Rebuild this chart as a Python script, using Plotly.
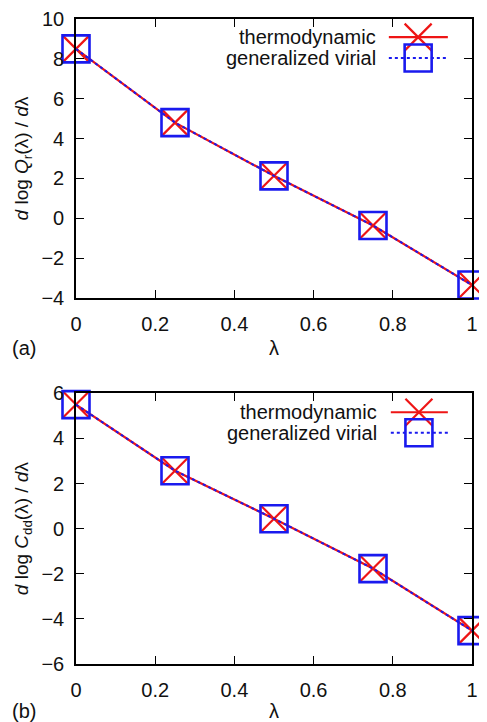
import plotly.graph_objects as go

lam = [0, 0.25, 0.5, 0.75, 1.0]
a_thermo = [8.5, 4.8, 2.13, -0.36, -3.35]
a_virial = [8.5, 4.8, 2.13, -0.36, -3.35]
b_thermo = [5.5, 2.57, 0.44, -1.77, -4.52]
b_virial = [5.5, 2.57, 0.44, -1.77, -4.52]

xticks = [0, 0.2, 0.4, 0.6, 0.8, 1]
xticktext = ["0", "0.2", "0.4", "0.6", "0.8", "1"]
a_yticks = list(range(-4, 11, 2))
b_yticks = list(range(-6, 7, 2))

RED = "#ee1515"
BLUE = "#1a1aee"
FONT = "Liberation Sans, Arial, sans-serif"
FS = 20

# page body has an 8px default margin: offset the figure so it fills the window
OFF = 8
W, H = 487 - OFF, 722 - OFF
def px(x):
    return (x - OFF) / W
def py(y):
    return 1 - (y - OFF) / H

fig = go.Figure()

def add_panel(xa, ya, th, vi):
    fig.add_trace(go.Scatter(x=lam, y=th, xaxis=xa, yaxis=ya, mode="lines+markers",
                             line=dict(color=RED, width=2.2),
                             marker=dict(symbol="x-thin", size=27, line=dict(color=RED, width=2.2)),
                             cliponaxis=False, showlegend=False))
    fig.add_trace(go.Scatter(x=lam, y=vi, xaxis=xa, yaxis=ya, mode="lines+markers",
                             line=dict(color=BLUE, width=2, dash="dot"),
                             marker=dict(symbol="square-open", size=27, line=dict(color=BLUE, width=2.6)),
                             cliponaxis=False, showlegend=False))

add_panel("x", "y", a_thermo, a_virial)
add_panel("x2", "y2", b_thermo, b_virial)

xd = [px(76), px(472)]
ya_dom = [py(298), py(19)]
yb_dom = [py(664), py(393.3)]

axcommon = dict(showline=True, linecolor="black", linewidth=1.6, mirror="allticks",
                ticks="inside", ticklen=8, tickwidth=1.4, tickcolor="black",
                showgrid=False, zeroline=False, automargin=False,
                tickfont=dict(family=FONT, size=FS, color="#111"))

fig.update_layout(
    width=W, height=H,
    margin=dict(l=0, r=0, t=0, b=0),
    paper_bgcolor="white", plot_bgcolor="white",
    font=dict(family=FONT, size=FS, color="#111"),
    xaxis=dict(domain=xd, anchor="y", range=[0, 1], tickvals=xticks,
               ticktext=xticktext, ticklabelstandoff=7, **axcommon),
    yaxis=dict(domain=ya_dom, anchor="x", range=[-4, 10], tickvals=a_yticks, ticklabelstandoff=6,
               title=dict(text="<i>d</i> log <i>Q</i><sub>r</sub>(λ) / <i>d</i>λ",
                          font=dict(family=FONT, size=19), standoff=8), **axcommon),
    xaxis2=dict(domain=xd, anchor="y2", range=[0, 1], tickvals=xticks,
                ticktext=xticktext, ticklabelstandoff=7, **axcommon),
    yaxis2=dict(domain=yb_dom, anchor="x2", range=[-6, 6], tickvals=b_yticks, ticklabelstandoff=6,
                title=dict(text="<i>d</i> log <i>C</i><sub>dd</sub>(λ) / <i>d</i>λ",
                           font=dict(family=FONT, size=19), standoff=8), **axcommon),
)

ann = []
for yp, lab in [(py(348), "(a)"), (py(711), "(b)")]:
    ann.append(dict(xref="paper", yref="paper", x=px(274), y=yp, text="λ", showarrow=False,
                    font=dict(family=FONT, size=FS), xanchor="center", yanchor="middle"))
    ann.append(dict(xref="paper", yref="paper", x=px(10), y=yp, text=lab, showarrow=False,
                    font=dict(family=FONT, size=FS), xanchor="left", yanchor="middle"))

shapes = []
def legend(xr, yr, y1, y2, xt, xl0, xl1, xm):
    ann.append(dict(xref=xr + " domain", yref=yr + " domain", x=xt, y=y1, text="thermodynamic",
                    showarrow=False, xanchor="right", yanchor="middle", font=dict(family=FONT, size=FS)))
    ann.append(dict(xref=xr + " domain", yref=yr + " domain", x=xt, y=y2, text="generalized virial",
                    showarrow=False, xanchor="right", yanchor="middle", font=dict(family=FONT, size=FS)))
    shapes.append(dict(type="line", xref=xr + " domain", yref=yr + " domain", x0=xl0, x1=xl1, y0=y1, y1=y1,
                       line=dict(color=RED, width=2.2)))
    shapes.append(dict(type="line", xref=xr + " domain", yref=yr + " domain", x0=xl0, x1=xl1, y0=y2, y1=y2,
                       line=dict(color=BLUE, width=2, dash="dot")))
    h = 13.5
    shapes.append(dict(type="path", xref=xr + " domain", yref=yr + " domain",
                       xsizemode="pixel", ysizemode="pixel", xanchor=xm, yanchor=y1,
                       path=f"M{-h},{-h}L{h},{h}M{-h},{h}L{h},{-h}", line=dict(color=RED, width=2.2)))
    shapes.append(dict(type="rect", xref=xr + " domain", yref=yr + " domain",
                       xsizemode="pixel", ysizemode="pixel", xanchor=xm, yanchor=y2,
                       x0=-h, x1=h, y0=-h, y1=h, line=dict(color=BLUE, width=2.6)))

legend("x", "y", 0.935, 0.860, 0.762, 0.790, 0.939, 0.864)
legend("x2", "y2", 0.930, 0.854, 0.766, 0.795, 0.939, 0.866)

fig.update_layout(annotations=ann, shapes=shapes)
fig.write_html("out.html")
